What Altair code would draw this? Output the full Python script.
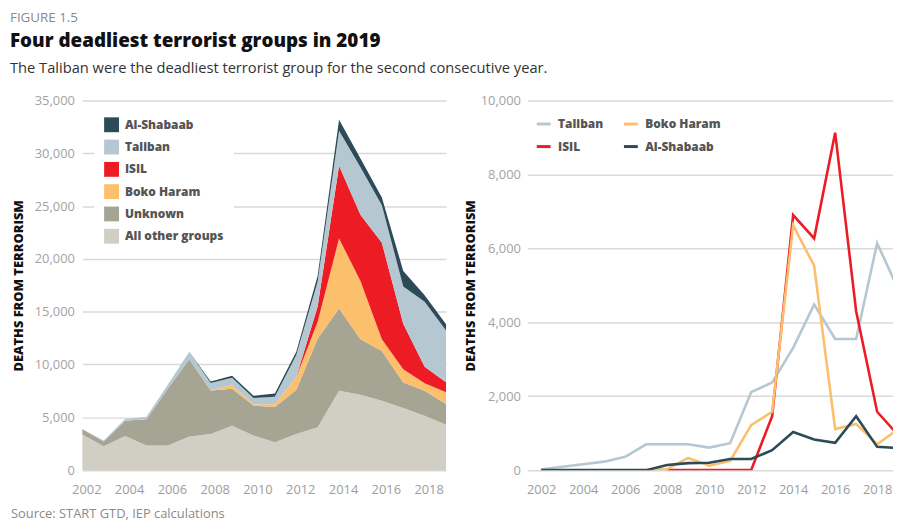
import altair as alt
import pandas as pd

FONT = "Open Sans"

years = list(range(2002, 2020))
taliban = [20, 90, 160, 230, 360, 700, 700, 700, 610, 730, 2110, 2370, 3310, 4480, 3550, 3550, 6140, 4900]
isil = [None, None, None, None, None, None, 0, 0, 0, 0, 0, 1460, 6900, 6270, 9130, 4300, 1580, 950]
boko_haram = [None, None, None, None, None, 0, 30, 330, 120, 250, 1220, 1580, 6620, 5530, 1110, 1250, 700, 1110]
al_shabaab = [0, 0, 0, 0, 0, 0, 140, 190, 200, 300, 300, 540, 1030, 830, 740, 1460, 630, 600]
unknown = [510, 450, 1440, 2500, 5410, 7320, 4100, 3500, 2840, 3340, 4150, 8400, 7790, 5250, 4720, 2420, 2360, 1950]
other_groups = [3370, 2260, 3240, 2330, 2330, 3180, 3430, 4210, 3270, 2640, 3430, 4060, 7520, 7140, 6570, 5880, 5160, 4310]

area_groups = ["Al-Shabaab", "Taliban", "ISIL", "Boko Haram", "Unknown", "All other groups"]
area_colors = ["#2c4a57", "#b5c8d2", "#ed1c24", "#fcbf6c", "#a6a594", "#d1cfc4"]
stack_bottom_up = ["All other groups", "Unknown", "Boko Haram", "ISIL", "Taliban", "Al-Shabaab"]
line_groups = ["Taliban", "ISIL", "Boko Haram", "Al-Shabaab"]
line_colors = ["#b5c8d2", "#ed1c24", "#fcbf6c", "#2c4a57"]
line_draw_order = ["Taliban", "ISIL", "Boko Haram", "Al-Shabaab"]
year_ticks = list(range(2002, 2019, 2))
left_y_ticks = list(range(0, 35001, 5000))
right_y_ticks = list(range(0, 10001, 2000))

figure_label = "FIGURE 1.5"
title_text = "Four deadliest terrorist groups in 2019"
subtitle_text = "The Taliban were the deadliest terrorist group for the second consecutive year."
source_text = "Source: START GTD, IEP calculations"
y_title = "DEATHS FROM TERRORISM"

series = {
    "All other groups": other_groups,
    "Unknown": unknown,
    "Boko Haram": boko_haram,
    "ISIL": isil,
    "Taliban": taliban,
    "Al-Shabaab": al_shabaab,
}

area_rows = []
for name in stack_bottom_up:
    for yr, v in zip(years, series[name]):
        area_rows.append({"year": yr, "group": name, "deaths": 0 if v is None else v,
                          "ord": stack_bottom_up.index(name)})
area_df = pd.DataFrame(area_rows)

line_rows = []
for name in line_draw_order:
    for yr, v in zip(years, series[name]):
        if v is not None:
            line_rows.append({"year": yr, "group": name, "deaths": v})
line_df = pd.DataFrame(line_rows)

x_axis_common = dict(values=year_ticks, format="d", labelColor="#9d9d9d", labelFontSize=13,
                     labelFont=FONT, domain=False, ticks=False, grid=False, labelPadding=14,
                     labelOverlap=False, labelFlush=False, title=None)
y_axis_common = dict(format=",d", labelColor="#a3a3a3", labelFontSize=13, labelFont=FONT,
                     domain=False, ticks=False, grid=True, gridColor="#d9d9d9", gridWidth=1.5,
                     title=y_title, titleFont=FONT, titleFontSize=13, titleFontWeight=800,
                     titleColor="#111111")

area = alt.Chart(area_df).mark_area(opacity=1).encode(
    x=alt.X("year:Q", scale=alt.Scale(domain=[2002, 2019], nice=False, zero=False),
            axis=alt.Axis(labelOffset=4, **x_axis_common)),
    y=alt.Y("deaths:Q", stack="zero", scale=alt.Scale(domain=[0, 35000], nice=False),
            axis=alt.Axis(values=left_y_ticks, labelPadding=8, titlePadding=9, **y_axis_common)),
    color=alt.Color("group:N", scale=alt.Scale(domain=area_groups, range=area_colors),
                    legend=alt.Legend(orient="none", legendX=12, legendY=7, padding=10,
                                      fillColor="white", title=None, symbolType="square",
                                      symbolSize=225, symbolStrokeWidth=0, symbolOpacity=1,
                                      labelFont=FONT, labelFontSize=12, labelFontWeight=800,
                                      labelColor="#555555", rowPadding=7.5, labelOffset=6)),
    order=alt.Order("ord:Q", sort="ascending"),
)


def text_layer(txt, x, y, size, weight, color):
    return alt.Chart(pd.DataFrame({"t": [txt]})).mark_text(
        align="left", baseline="alphabetic", fontSize=size, fontWeight=weight,
        color=color, font=FONT
    ).encode(text="t:N", x=alt.value(x), y=alt.value(y))


left = alt.layer(
    area,
    text_layer(figure_label, -73, -79, 13.5, "normal", "#8a8a8a"),
    text_layer(title_text, -73, -54, 19, 800, "#111111"),
    text_layer(subtitle_text, -73, -28, 14.8, "normal", "#333333"),
    text_layer(source_text, -72, 421, 13, "normal", "#8a8a8a"),
).properties(width=367, height=373)

right = alt.Chart(line_df).mark_line(strokeWidth=2.6, clip=True).encode(
    x=alt.X("year:Q", scale=alt.Scale(domain=[2001.34, 2018.755], nice=False, zero=False),
            axis=alt.Axis(**x_axis_common)),
    y=alt.Y("deaths:Q", scale=alt.Scale(domain=[0, 10000], nice=False),
            axis=alt.Axis(values=right_y_ticks, labelPadding=7, titlePadding=3, **y_axis_common)),
    color=alt.Color("group:N", scale=alt.Scale(domain=line_groups, range=line_colors),
                    legend=alt.Legend(orient="none", legendX=8, legendY=15, columns=2, title=None,
                                      symbolType="stroke", symbolSize=196, symbolStrokeWidth=3,
                                      labelFont=FONT, labelFontSize=12, labelFontWeight=800,
                                      labelColor="#555555", rowPadding=8, columnPadding=14,
                                      labelOffset=6)),
    detail="group:N",
).properties(width=369, height=373)

chart = alt.hconcat(left, right, spacing=82, bounds="flush").resolve_scale(
    color="independent", x="independent", y="independent"
).properties(
    padding={"left": 2, "top": 1, "right": 0, "bottom": 0}
).configure_view(stroke=None)

chart.save("out.html", embed_options={"renderer": "svg", "actions": False})
